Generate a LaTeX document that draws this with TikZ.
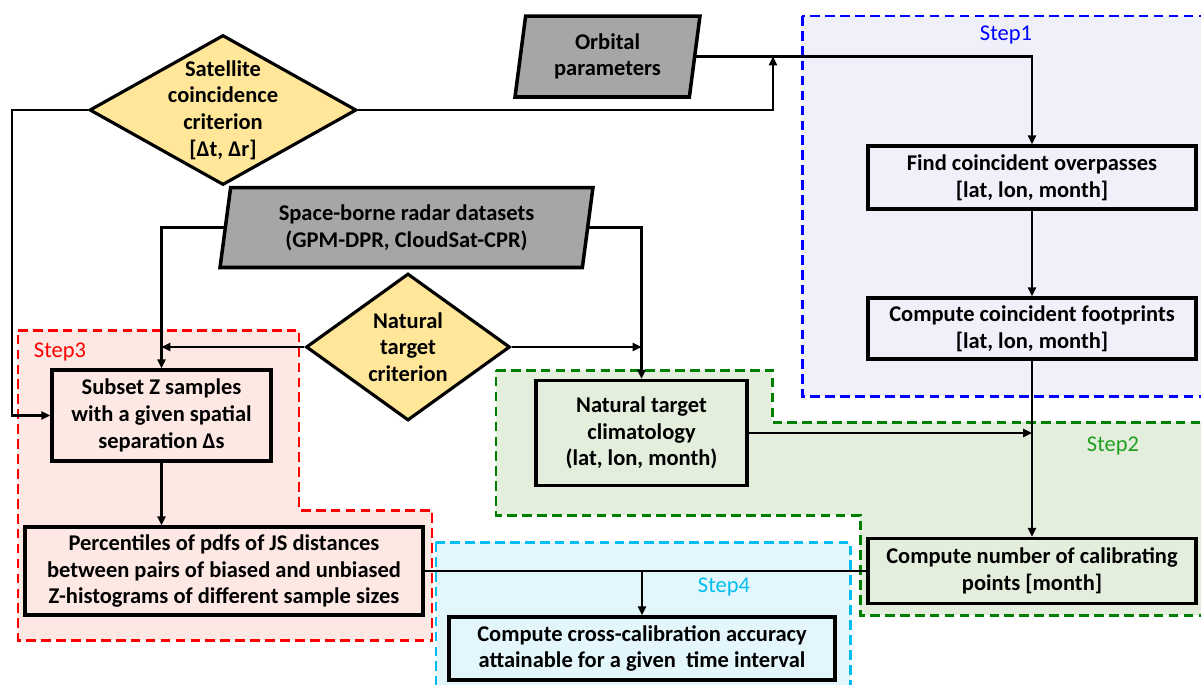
\documentclass[tikz,border=0pt]{standalone}
\usepackage{fontspec}
\setmainfont{Carlito}
\usetikzlibrary{positioning,arrows.meta,shapes.geometric}
\definecolor{goldfill}{HTML}{FFE699}
\definecolor{greyfill}{HTML}{A6A6A6}
\definecolor{lavfill}{HTML}{F0F0FA}
\definecolor{mintfill}{HTML}{E3EEDD}
\definecolor{rosefill}{HTML}{FDE8E4}
\definecolor{skyfill}{HTML}{E3F6FC}
\definecolor{stepblue}{HTML}{0000FF}
\definecolor{stepgreen}{HTML}{008000}
\definecolor{steptxtgreen}{HTML}{20A020}
\definecolor{stepred}{HTML}{FF0000}
\definecolor{stepcyan}{HTML}{00BFF0}
\newcommand{\boxfont}{\fontsize{12.8}{15.2}\selectfont\bfseries}
\newcommand{\stepfont}{\fontsize{12.8}{15.2}\selectfont}
\tikzset{
  blk/.style={rectangle, draw=black, fill=#1, line width=2pt, align=center,
              inner sep=2pt, font=\boxfont},
  io/.style={trapezium, trapezium left angle=77, trapezium right angle=103,
             trapezium stretches body, draw=black, fill=greyfill,
             line width=2pt, align=center, inner sep=0pt, font=\boxfont},
  dia/.style={diamond, draw=black, fill=goldfill, line width=1.8pt,
              align=center, inner sep=-14pt, font=\boxfont},
  zone/.style={draw=#1, line width=1.7pt, dash pattern=on 5.5pt off 3pt},
  steplbl/.style={font=\stepfont, text=#1, inner sep=0pt},
  ar/.style={-{Triangle[length=5pt,width=4.5pt]}, line width=1.3pt},
  ln/.style={line width=1.3pt},
}

\begin{document}
\begin{tikzpicture}[x=0.02cm, y=-0.02cm]
  \useasboundingbox (0,0) rectangle (1201,684);
  \clip (0,0) rectangle (1201,684);

  % dashed step zones
  \path[fill=lavfill, zone=stepblue] (802,16) rectangle (1215,396);
  \path[fill=mintfill, zone=stepgreen] (496,370) -- (772,370) -- (772,422)
    -- (1215,422) -- (1215,615) -- (860,615) -- (860,515) -- (496,515) -- cycle;
  \path[fill=rosefill, zone=stepred] (18,330) -- (299,330) -- (299,510)
    -- (432,510) -- (432,640) -- (18,640) -- cycle;
  \path[fill=skyfill, zone=stepcyan] (436,542) rectangle (850,700);

  \node[steplbl=stepblue] (s1) at (1006,35) {Step1};
  \node[steplbl=steptxtgreen] (s2) at (1113,446) {Step2};
  \node[steplbl=stepred] (s3) at (60,352) {Step3};
  \node[steplbl=stepcyan] (s4) at (724,587) {Step4};

  % inputs and criteria
  \node[io, minimum width=3.7cm, minimum height=1.62cm] (orb) at (607.5,56.5) {Orbital\\parameters};
  \node[io, minimum width=7.46cm, minimum height=1.6cm] (radar) at (406.5,227.5) {Space-borne radar datasets\\(GPM-DPR, CloudSat-CPR)};
  \node[dia, minimum width=5.34cm, minimum height=3cm] (sat) at (223,110) {Satellite\\coincidence\\criterion\\{[}Δt, Δr{]}};
  \node[dia, minimum width=4.08cm, minimum height=2.94cm] (ntc) at (408,347) {Natural\\target\\criterion};

  % processing boxes
  \node[blk=lavfill, minimum width=6.56cm, minimum height=1.26cm] (find) at (1032,177.5) {Find coincident overpasses\\{[}lat, lon, month{]}};
  \node[blk=lavfill, minimum width=6.56cm, minimum height=1.22cm] (foot) at (1032,328.5) {Compute coincident footprints\\{[}lat, lon, month{]}};
  \node[blk=mintfill, minimum width=6.56cm, minimum height=1.3cm] (num) at (1032,571) {Compute number of calibrating\\points {[}month{]}};
  \node[blk=mintfill, minimum width=4.22cm, minimum height=2.1cm] (clim) at (641.5,433) {Natural target\\climatology\\(lat, lon, month)};
  \node[blk=rosefill, minimum width=4.38cm, minimum height=1.82cm] (subset) at (161.5,415.5) {Subset Z samples\\with a given spatial\\separation Δs};
  \node[blk=rosefill, minimum width=7.96cm, minimum height=1.76cm] (perc) at (224,571) {Percentiles of pdfs of JS distances\\between pairs of biased and unbiased\\Z-histograms of different sample sizes};
  \node[blk=skyfill, minimum width=7.72cm, minimum height=1.26cm] (cross) at (642,648.5) {Compute cross-calibration accuracy\\attainable for a given\ \ time interval};

  \coordinate (jn) at (773,56.5);
  \coordinate (lft) at (12,110);

  \draw[ar] (orb.east) -| (find.north);
  \draw[ar] (sat.east) -| (jn);
  \draw[ar] (sat.west) -- (lft) |- (subset.west);
  \draw[ar] (radar.west) -| (subset.north);
  \draw[ar] (radar.east) -| (clim.north);
  \draw[ar] (ntc.west) -- (ntc.west -| subset.north);
  \draw[ar] (ntc.east) -- (ntc.east -| clim.north);
  \draw[ar] (find.south) -- (foot.north);
  \draw[ar] (foot.south) -- (num.north);
  \draw[ar] (clim.east) -- (clim.east -| foot.south);
  \draw[ar] (subset.south) -- (subset.south |- perc.north);
  \draw[ln] (perc.east) -- (num.west);
  \draw[ar] (perc.east -| cross.north) -- (cross.north);
\end{tikzpicture}
\end{document}
